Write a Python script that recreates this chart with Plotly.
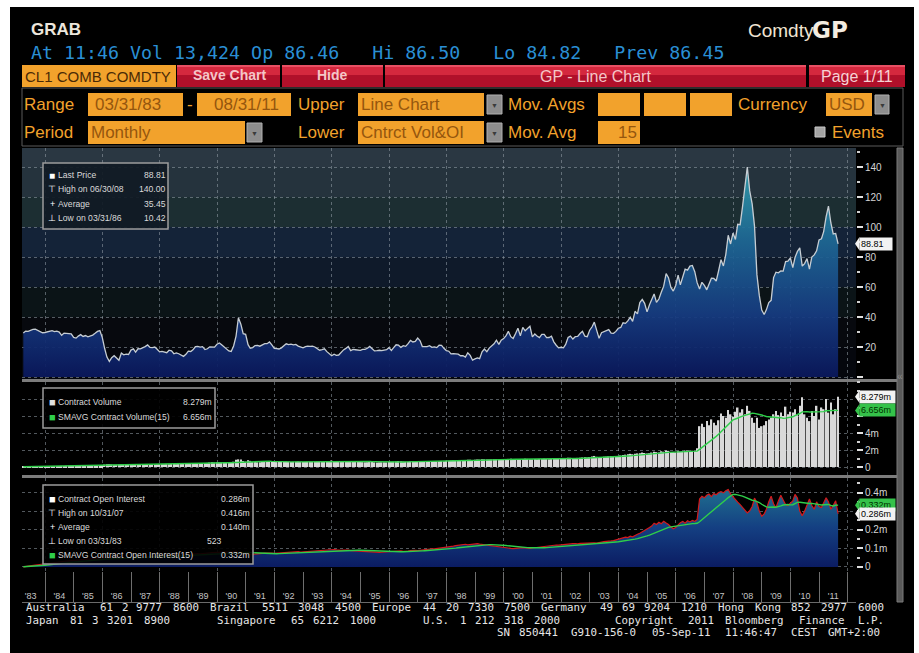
import re
import plotly.graph_objects as go
import pandas as pd

W, H = 919, 653

# ---------------- data ----------------
start_date = "1983-03-31"
end_date = "2011-08-31"

last_price = [
    29.27, 30.63, 30.49, 31.38, 31.74, 31.86, 30.90, 30.11, 29.50, 29.68,              # 1983
    29.97, 30.55, 30.85, 30.26, 30.56, 29.99, 27.78, 29.29, 29.25, 28.75, 28.72, 26.41,  # 1984
    25.92, 27.28, 28.24, 27.05, 27.66, 26.81, 27.15, 27.95, 29.10, 30.42, 30.99, 26.30,  # 1985
    18.83, 13.26, 10.42, 12.85, 14.23, 12.79, 11.15, 15.90, 14.77, 15.27, 15.00, 17.94,  # 1986
    18.75, 16.60, 18.83, 18.73, 19.38, 20.29, 21.37, 19.73, 19.59, 19.96, 18.51, 16.74,  # 1987
    17.13, 16.80, 16.20, 17.86, 17.42, 15.50, 16.02, 15.52, 14.54, 13.77, 15.14, 17.24,  # 1988
    17.03, 18.15, 20.19, 20.42, 19.90, 20.27, 18.31, 18.83, 20.13, 19.94, 19.89, 21.82,  # 1989
    22.68, 21.54, 20.28, 18.54, 17.40, 17.07, 20.69, 27.32, 39.51, 35.23, 28.85, 28.44,  # 1990
    21.54, 19.16, 19.63, 20.96, 21.13, 20.56, 21.68, 22.26, 22.23, 23.37, 21.48, 19.12,  # 1991
    18.90, 18.68, 19.44, 20.85, 22.11, 21.60, 21.87, 21.48, 21.71, 20.62, 19.89, 19.50,  # 1992
    20.26, 20.60, 20.44, 20.53, 20.02, 18.85, 17.88, 18.29, 18.79, 16.92, 15.43, 14.17,  # 1993
    15.19, 14.48, 14.66, 16.38, 18.07, 19.06, 20.30, 17.56, 18.39, 18.19, 18.05, 17.76,  # 1994
    18.39, 18.49, 19.17, 20.38, 18.89, 17.40, 17.56, 17.84, 17.54, 17.64, 18.18, 19.55,  # 1995
    17.74, 19.54, 21.47, 21.20, 19.76, 20.92, 20.42, 22.25, 24.38, 23.35, 23.75, 25.92,  # 1996
    24.15, 20.30, 20.41, 20.21, 20.88, 19.80, 20.14, 19.61, 21.18, 21.08, 19.15, 17.64,  # 1997
    17.21, 15.44, 15.61, 15.39, 15.20, 14.18, 14.21, 13.34, 16.14, 14.42, 11.22, 12.05,  # 1998
    12.75, 12.27, 16.76, 18.66, 16.84, 19.29, 20.53, 22.11, 24.51, 21.75, 24.59, 25.60,  # 1999
    27.64, 30.43, 26.90, 25.74, 29.01, 32.50, 27.43, 33.12, 30.84, 32.70, 33.82, 26.80,  # 2000
    28.66, 27.39, 26.29, 28.46, 28.37, 26.25, 26.35, 27.20, 23.43, 21.18, 19.44, 19.84,  # 2001
    19.48, 21.74, 26.31, 27.29, 25.31, 26.86, 27.02, 28.98, 30.45, 27.22, 26.89, 31.20,  # 2002
    33.51, 36.60, 31.04, 25.80, 29.56, 30.19, 30.54, 31.57, 29.20, 29.11, 30.41, 32.52,  # 2003
    33.05, 36.16, 35.76, 37.38, 39.88, 37.05, 43.80, 42.12, 49.64, 51.76, 49.13, 43.45,  # 2004
    48.20, 51.75, 55.40, 49.72, 51.97, 56.50, 60.57, 68.94, 66.24, 59.76, 57.32, 61.04,  # 2005
    67.92, 61.41, 66.63, 71.88, 71.29, 73.93, 74.40, 70.26, 62.91, 58.73, 63.13, 61.05,  # 2006
    58.14, 61.79, 65.87, 65.71, 64.01, 70.68, 78.21, 74.04, 81.66, 94.53, 88.71, 95.98,  # 2007
    91.75, 101.84, 101.58, 113.46, 127.35, 140.00, 124.08, 115.46, 100.64, 68.10, 54.43, 44.60,  # 2008
    41.68, 44.76, 49.66, 51.12, 66.31, 69.89, 69.45, 70.71, 70.61, 77.00, 77.28, 79.36,  # 2009
    72.89, 79.66, 83.76, 86.15, 73.97, 75.63, 78.95, 71.92, 79.97, 81.43, 84.11, 91.38,  # 2010
    92.19, 96.97, 106.72, 113.93, 102.70, 95.42, 95.70, 88.81,                          # 2011
]

contract_volume_m = [
    0.03, 0.04, 0.05, 0.05, 0.06, 0.06, 0.07, 0.07, 0.08, 0.08,                # 1983
    0.09, 0.10, 0.10, 0.11, 0.12, 0.12, 0.13, 0.13, 0.14, 0.15, 0.15, 0.16,    # 1984
    0.16, 0.17, 0.18, 0.18, 0.19, 0.19, 0.20, 0.20, 0.21, 0.21, 0.22, 0.23,    # 1985
    0.28, 0.32, 0.33, 0.30, 0.27, 0.26, 0.30, 0.31, 0.27, 0.26, 0.25, 0.27,    # 1986
    0.28, 0.27, 0.29, 0.30, 0.28, 0.29, 0.31, 0.30, 0.29, 0.30, 0.31, 0.33,    # 1987
    0.32, 0.33, 0.34, 0.33, 0.35, 0.36, 0.34, 0.35, 0.37, 0.38, 0.37, 0.39,    # 1988
    0.38, 0.40, 0.42, 0.41, 0.43, 0.44, 0.46, 0.48, 0.52, 0.55, 0.53, 0.56,    # 1989
    0.55, 0.54, 0.56, 0.58, 0.55, 0.57, 0.62, 0.85, 0.90, 0.88, 0.70, 0.62,    # 1990
    0.80, 0.72, 0.60, 0.58, 0.56, 0.57, 0.60, 0.62, 0.58, 0.60, 0.62, 0.64,    # 1991
    0.58, 0.60, 0.62, 0.63, 0.65, 0.62, 0.60, 0.61, 0.63, 0.64, 0.62, 0.60,    # 1992
    0.60, 0.62, 0.63, 0.61, 0.62, 0.64, 0.65, 0.63, 0.66, 0.68, 0.72, 0.75,    # 1993
    0.72, 0.70, 0.68, 0.66, 0.70, 0.72, 0.70, 0.68, 0.66, 0.64, 0.62, 0.60,    # 1994
    0.58, 0.56, 0.57, 0.59, 0.58, 0.55, 0.54, 0.55, 0.56, 0.57, 0.55, 0.58,    # 1995
    0.60, 0.62, 0.66, 0.70, 0.68, 0.64, 0.62, 0.63, 0.66, 0.68, 0.65, 0.64,    # 1996
    0.66, 0.68, 0.65, 0.64, 0.66, 0.65, 0.67, 0.66, 0.68, 0.70, 0.69, 0.72,    # 1997
    0.74, 0.76, 0.80, 0.78, 0.77, 0.79, 0.80, 0.78, 0.84, 0.86, 0.82, 0.85,    # 1998
    0.88, 0.86, 0.92, 0.90, 0.88, 0.87, 0.89, 0.90, 0.92, 0.95, 0.93, 0.90,    # 1999
    0.92, 0.95, 0.98, 0.90, 0.88, 0.92, 0.90, 0.93, 0.96, 0.95, 0.92, 0.90,    # 2000
    0.94, 0.92, 0.95, 0.93, 0.96, 0.94, 0.92, 0.95, 1.00, 0.98, 1.02, 0.96,    # 2001
    1.00, 1.05, 1.10, 1.08, 1.06, 1.05, 1.07, 1.10, 1.12, 1.15, 1.12, 1.18,    # 2002
    1.25, 1.30, 1.20, 1.15, 1.18, 1.20, 1.22, 1.25, 1.30, 1.28, 1.26, 1.30,    # 2003
    1.35, 1.40, 1.45, 1.50, 1.55, 1.50, 1.55, 1.60, 1.62, 1.70, 1.65, 1.58,    # 2004
    1.62, 1.70, 1.80, 1.75, 1.72, 1.85, 1.80, 1.95, 1.90, 1.78, 1.75, 1.72,    # 2005
    1.85, 1.80, 1.82, 1.90, 1.95, 1.85, 1.90, 1.88, 2.20, 4.80, 5.10, 4.70,    # 2006
    5.40, 4.90, 5.60, 5.20, 4.90, 5.50, 6.30, 6.00, 5.80, 6.70, 6.20, 5.90,    # 2007
    6.50, 7.00, 6.40, 6.80, 6.20, 7.20, 6.60, 5.80, 5.20, 5.80, 4.60, 4.80,    # 2008
    4.90, 5.40, 5.60, 5.80, 6.20, 6.60, 6.10, 6.40, 6.00, 7.10, 6.20, 6.50,    # 2009
    6.40, 6.80, 6.10, 7.20, 8.20, 6.20, 5.80, 5.40, 6.60, 6.00, 7.20, 5.60,    # 2010
    7.00, 6.80, 8.00, 6.40, 7.60, 6.20, 6.80, 8.279,                          # 2011
]

open_interest_m = [
    0.001, 0.002, 0.004, 0.006, 0.008, 0.010, 0.012, 0.014, 0.016, 0.018,                      # 1983
    0.020, 0.022, 0.024, 0.026, 0.027, 0.028, 0.030, 0.031, 0.032, 0.033, 0.034, 0.036,        # 1984
    0.037, 0.038, 0.039, 0.040, 0.041, 0.040, 0.042, 0.043, 0.044, 0.045, 0.046, 0.048,        # 1985
    0.050, 0.052, 0.050, 0.048, 0.047, 0.046, 0.045, 0.046, 0.047, 0.048, 0.049, 0.050,        # 1986
    0.051, 0.052, 0.053, 0.054, 0.055, 0.056, 0.058, 0.057, 0.056, 0.055, 0.056, 0.058,        # 1987
    0.059, 0.060, 0.061, 0.060, 0.062, 0.063, 0.064, 0.063, 0.065, 0.066, 0.065, 0.067,        # 1988
    0.068, 0.069, 0.070, 0.072, 0.071, 0.073, 0.074, 0.075, 0.076, 0.077, 0.078, 0.080,        # 1989
    0.079, 0.078, 0.080, 0.082, 0.081, 0.080, 0.083, 0.086, 0.078, 0.072, 0.070, 0.068,        # 1990
    0.066, 0.067, 0.068, 0.070, 0.071, 0.072, 0.073, 0.074, 0.075, 0.076, 0.074, 0.073,        # 1991
    0.074, 0.075, 0.077, 0.078, 0.079, 0.080, 0.078, 0.079, 0.081, 0.082, 0.080, 0.081,        # 1992
    0.082, 0.083, 0.085, 0.084, 0.086, 0.087, 0.088, 0.090, 0.089, 0.091, 0.093, 0.095,        # 1993
    0.094, 0.092, 0.090, 0.089, 0.091, 0.092, 0.090, 0.088, 0.087, 0.086, 0.085, 0.084,        # 1994
    0.083, 0.082, 0.080, 0.081, 0.079, 0.078, 0.077, 0.078, 0.079, 0.080, 0.081, 0.082,        # 1995
    0.083, 0.085, 0.087, 0.089, 0.086, 0.084, 0.083, 0.085, 0.088, 0.090, 0.089, 0.088,        # 1996
    0.090, 0.092, 0.094, 0.095, 0.096, 0.098, 0.097, 0.099, 0.100, 0.102, 0.101, 0.104,        # 1997
    0.106, 0.108, 0.112, 0.115, 0.117, 0.118, 0.120, 0.122, 0.119, 0.121, 0.124, 0.126,        # 1998
    0.125, 0.123, 0.121, 0.118, 0.116, 0.115, 0.114, 0.112, 0.110, 0.108, 0.105, 0.106,        # 1999
    0.104, 0.102, 0.100, 0.099, 0.101, 0.100, 0.102, 0.104, 0.103, 0.101, 0.100, 0.102,        # 2000
    0.104, 0.106, 0.108, 0.110, 0.109, 0.111, 0.112, 0.114, 0.116, 0.118, 0.117, 0.119,        # 2001
    0.120, 0.122, 0.124, 0.123, 0.125, 0.126, 0.124, 0.127, 0.128, 0.126, 0.129, 0.131,        # 2002
    0.133, 0.130, 0.128, 0.132, 0.134, 0.136, 0.138, 0.137, 0.140, 0.142, 0.145, 0.148,        # 2003
    0.150, 0.156, 0.160, 0.158, 0.165, 0.162, 0.170, 0.176, 0.181, 0.188, 0.195, 0.205,        # 2004
    0.212, 0.220, 0.235, 0.228, 0.240, 0.232, 0.245, 0.236, 0.228, 0.215, 0.205, 0.212,        # 2005
    0.225, 0.238, 0.245, 0.235, 0.248, 0.242, 0.250, 0.245, 0.255, 0.365, 0.380, 0.372,        # 2006
    0.385, 0.392, 0.378, 0.395, 0.388, 0.400, 0.405, 0.398, 0.410, 0.416, 0.392, 0.375,        # 2007
    0.360, 0.348, 0.335, 0.320, 0.305, 0.290, 0.302, 0.325, 0.370, 0.345, 0.300, 0.272,        # 2008
    0.285, 0.310, 0.350, 0.380, 0.340, 0.318, 0.355, 0.385, 0.360, 0.335, 0.330, 0.340,        # 2009
    0.355, 0.390, 0.370, 0.300, 0.275, 0.300, 0.335, 0.365, 0.330, 0.310, 0.350, 0.325,        # 2010
    0.320, 0.345, 0.372, 0.350, 0.310, 0.330, 0.355, 0.286,                                    # 2011
]

year_labels = ["'83", "'84", "'85", "'86", "'87", "'88", "'89", "'90", "'91", "'92",
               "'93", "'94", "'95", "'96", "'97", "'98", "'99", "'00", "'01", "'02",
               "'03", "'04", "'05", "'06", "'07", "'08", "'09", "'10", "'11"]
label_years = list(range(1983, 2012))

price_ticks = [0, 20, 40, 60, 80, 100, 120, 140]
price_ticktext = ["", "20", "40", "60", "80", "100", "120", "140"]
vol_ticks = [0, 2, 4, 6, 8]
vol_ticktext = ["0", "2m", "4m", "", ""]          # 6m / 8m hidden under value tags
oi_ticks = [0, 0.1, 0.2, 0.3, 0.4]
oi_ticktext = ["0", "0.1m", "0.2m", "", "0.4m"]   # 0.3m hidden under value tags

footer_lines = [
    "Australia 61 2 9777 8600 Brazil 5511 3048 4500 Europe 44 20 7330 7500 "
    "Germany 49 69 9204 1210 Hong Kong 852 2977 6000",
    "Japan 81 3 3201 8900      Singapore 65 6212 1000      U.S. 1 212 318 2000       "
    "Copyright 2011 Bloomberg Finance L.P.",
    " " * 64 + "SN 850441 G910-156-0 05-Sep-11 11:46:47 CEST GMT+2:00",
]

try:
    dates = pd.date_range(start_date, end_date, freq="ME")
except ValueError:
    dates = pd.date_range(start_date, end_date, freq="M")

assert len(dates) == len(last_price) == len(contract_volume_m) == len(open_interest_m), (
    len(dates), len(last_price), len(contract_volume_m), len(open_interest_m))

vol_sma = pd.Series(contract_volume_m).rolling(15, min_periods=1).mean().tolist()
oi_sma = pd.Series(open_interest_m).rolling(15, min_periods=1).mean().tolist()
label_dates = [f"{y}-07-01" for y in label_years]

# ---------------- styling helpers ----------------
SANS = "Liberation Sans, Arial, sans-serif"
NARROW = "Liberation Sans, Arial, sans-serif"
MONO = "DejaVu Sans Mono, Liberation Mono, monospace"
ORANGE = "#f2a22c"
BOXTXT = "#95560e"
GRID = "rgba(150,160,170,0.55)"
GREEN = "#2fcf4a"
NB = "\u00a0"
LEGSIZE = 8.6

shapes = []
annos = []


def rect(x0, y0, x1, y1, fill, line=None, lw=0, layer="below"):
    shapes.append(dict(type="rect", xref="paper", yref="paper",
                       x0=x0 / W, x1=x1 / W, y0=1 - y1 / H, y1=1 - y0 / H,
                       fillcolor=fill, line=dict(color=line or fill, width=lw), layer=layer))


def text(x, y, s, size=12, color="#ffffff", family=SANS, xanchor="left", yanchor="middle", bg=None):
    a = dict(xref="paper", yref="paper", x=x / W, y=1 - y / H, text=s, showarrow=False,
             xanchor=xanchor, yanchor=yanchor, borderpad=0, borderwidth=0,
             font=dict(size=size, color=color, family=family))
    if bg:
        a["bgcolor"] = bg
    annos.append(a)


# outer terminal panel
rect(10, 7, 914, 660, "#000000")

# header
text(31, 29, "<b>GRAB</b>", 17, "#ece6dc", SANS)
text(748, 30, "Comdty", 19, "#efe4d2", SANS)
text(812, 30, "<b>GP</b>", 23, "#f3ece0", "DejaVu Sans, " + SANS)
text(31, 53, f"At 11:46 Vol 13,424 Op 86.46{NB*3}Hi 86.50{NB*3}Lo 84.82{NB*3}Prev 86.45",
     18.3, "#2a8fd4", MONO)

# red toolbar
rect(22, 65, 176, 87, ORANGE)
text(25, 76, "CL1 COMB COMDTY", 15, "#4a2a06", SANS)
for (a, b) in [(177, 280), (282, 383), (385, 806), (809, 905)]:
    rect(a, 65, b, 87, "#b0102a")
    rect(a, 65, b, 75, "#d4283e")
    rect(a, 65, b, 67, "#e85064")
text(229, 75, "<b>Save Chart</b>", 14, "#f4c6c8", SANS, xanchor="center")
text(332, 75, "<b>Hide</b>", 14, "#f4c6c8", SANS, xanchor="center")
text(595, 76, "GP - Line Chart", 16, "#f4c6c8", SANS, xanchor="center")
text(857, 76, "Page 1/11", 16, "#f6d2d4", SANS, xanchor="center")

# control area
rect(22, 88, 903, 146, "rgba(0,0,0,0)", "#5a5a5a", 1)


def dropdown(x0, y0, x1, y1):
    rect(x0, y0, x1, y1, "#8d8d8d", "#b0b0b0", 1)
    text((x0 + x1) / 2, (y0 + y1) / 2 + 1, "▼", 7, "#3a3a3a", SANS, xanchor="center")


r1a, r1b, r1c = 93, 116, 104.5
r2a, r2b, r2c = 121, 144, 132.5
text(24, r1c, "Range", 17, ORANGE)
rect(88, r1a, 183, r1b, ORANGE)
text(95, r1c, "03/31/83", 17, BOXTXT)
text(187, r1c, "-", 17, ORANGE)
rect(197, r1a, 291, r1b, ORANGE)
text(214, r1c, "08/31/11", 17, BOXTXT)
text(298, r1c, "Upper", 17, ORANGE)
rect(358, r1a, 484, r1b, ORANGE)
text(361, r1c, "Line Chart", 17, BOXTXT)
dropdown(487, r1a + 2, 502, r1b - 2)
text(508, r1c, "Mov. Avgs", 17, ORANGE)
for (a, b) in [(598, 640), (644, 686), (690, 732)]:
    rect(a, r1a, b, r1b, ORANGE)
text(738, r1c, "Currency", 17, ORANGE)
rect(826, r1a, 872, r1b, ORANGE)
text(829, r1c, "USD", 17, BOXTXT)
dropdown(875, r1a + 2, 889, r1b - 2)

text(24, r2c, "Period", 17, ORANGE)
rect(88, r2a, 245, r2b, ORANGE)
text(91, r2c, "Monthly", 17, BOXTXT)
dropdown(247, r2a + 2, 262, r2b - 2)
text(298, r2c, "Lower", 17, ORANGE)
rect(358, r2a, 484, r2b, ORANGE)
text(361, r2c, "Cntrct Vol&OI", 17, BOXTXT)
dropdown(487, r2a + 2, 502, r2b - 2)
text(508, r2c, "Mov. Avg", 17, ORANGE)
rect(598, r2a, 640, r2b, ORANGE)
text(637, r2c, "15", 17, BOXTXT, xanchor="right")
rect(815, 127, 825, 137, "#a4a4a4", "#c8c8c8", 1)
text(832, r2c, "Events", 17, ORANGE)

# panel separators, scrollbar
rect(22, 379, 897, 382, "#7c7c7c")
rect(22, 475, 897, 478, "#7c7c7c")
rect(897, 148, 903, 602, "#5a5a5a", "#7a7a7a", 1)
text(900, 376, "«", 10, "#8a8a8a", SANS, xanchor="center")

# top-panel background bands (style only)
bands = [(140, 160, "#2a3742"), (120, 140, "#25333d"), (100, 120, "#1c2e32"),
         (80, 100, "#142338"), (60, 80, "#0f1a2a"), (40, 60, "#0b1417"),
         (20, 40, "#07090e"), (-5, 20, "#05070d")]
for lo, hi, c in bands:
    shapes.append(dict(type="rect", xref="x domain", yref="y", x0=0, x1=1, y0=lo, y1=hi,
                       fillcolor=c, line=dict(width=0), layer="below"))

# legend boxes
LEG = "#dadada"
rect(43, 163, 168, 229, "rgba(16,26,36,0.92)", "#9c9c9c", 1.5, "above")
top_rows = [("■", "Last Price", "88.81"), ("⊤", "High on 06/30/08", "140.00"),
            ("+", "Average", "35.45"), ("⊥", "Low on 03/31/86", "10.42")]
for i, (ic, lab, val) in enumerate(top_rows):
    yy = 175 + i * 14.3
    text(52, yy, ic, 10 if ic == "■" else 9, "#ffffff", SANS, xanchor="center")
    text(58, yy, lab, LEGSIZE, LEG, NARROW)
    text(166, yy, val, LEGSIZE, LEG, NARROW, xanchor="right")

rect(43, 388, 215, 428, "rgba(0,0,0,0.9)", "#9c9c9c", 1.5, "above")
text(52, 402, "■", 11, "#e0e0e0", SANS, xanchor="center")
text(58, 402, "Contract Volume", LEGSIZE, LEG, NARROW)
text(212, 402, "8.279m", LEGSIZE, LEG, NARROW, xanchor="right")
text(52, 417, "■", 11, GREEN, SANS, xanchor="center")
text(58, 417, "SMAVG Contract Volume(15)", LEGSIZE, LEG, NARROW)
text(212, 417, "6.656m", LEGSIZE, LEG, NARROW, xanchor="right")

rect(43, 485, 253, 564, "rgba(0,0,0,0.9)", "#9c9c9c", 1.5, "above")
bot_rows = [("■", "#ffffff", "Contract Open Interest", "0.286m", 250),
            ("⊤", "#ffffff", "High on 10/31/07", "0.416m", 250),
            ("+", "#ffffff", "Average", "0.140m", 250),
            ("⊥", "#ffffff", "Low on 03/31/83", "523", 222),
            ("■", GREEN, "SMAVG Contract Open Interest(15)", "0.332m", 250)]
for i, (ic, icc, lab, val, vx) in enumerate(bot_rows):
    yy = 499 + i * 14
    text(52, yy, ic, 11 if ic == "■" else 9, icc, SANS, xanchor="center")
    text(58, yy, lab, LEGSIZE, LEG, NARROW)
    text(vx, yy, val, LEGSIZE, LEG, NARROW, xanchor="right")

# footer: words placed on the terminal's fixed character grid
FOOT = "#e6e6e6"
CHAR_W = 7.36
for li, line in enumerate(footer_lines):
    yy = 607.3 + li * 12.7
    for m in re.finditer(r"\S+", line):
        text(26 + m.start() * CHAR_W, yy, m.group(), 10.8, FOOT, MONO)


# right-side value tags with pointers
def tag(yref, value, label, bg, fg, half):
    annos.append(dict(xref="paper", yref=yref, x=859 / W, y=value, text=label, showarrow=False,
                      xanchor="left", yanchor="middle", bgcolor=bg, borderpad=1,
                      font=dict(size=9, color=fg, family=NARROW)))
    shapes.append(dict(type="path", xref="paper", yref=yref, layer="above",
                       path=f"M {855/W} {value} L {859.5/W} {value + half} L {859.5/W} {value - half} Z",
                       fillcolor=bg, line=dict(width=0)))


tag("y", last_price[-1], "88.81" + NB * 3, "#f2f2f2", "#000000", 4.5)
tag("y2", contract_volume_m[-1], "8.279m" + NB, "#f2f2f2", "#000000", 0.75)
tag("y2", vol_sma[-1], "6.656m" + NB, "#35c24a", "#003300", 0.75)
tag("y3", oi_sma[-1], "0.332m" + NB, "#35c24a", "#003300", 0.035)
tag("y3", open_interest_m[-1], "0.286m" + NB, "#f2f2f2", "#000000", 0.035)

# ---------------- figure ----------------
fig = go.Figure()
fig.add_trace(go.Scatter(
    x=dates, y=last_price, mode="lines", line=dict(color="#c6cdd3", width=1.3),
    fill="tozeroy",
    fillgradient=dict(type="vertical", start=0, stop=140,
                      colorscale=[[0, "rgba(10,24,92,0.95)"], [0.3, "rgba(22,60,130,0.93)"],
                                  [0.65, "rgba(30,105,150,0.92)"], [1, "rgba(50,160,175,0.92)"]]),
    xaxis="x", yaxis="y", hoverinfo="skip"))
fig.add_trace(go.Bar(x=dates, y=contract_volume_m, marker=dict(color="#d9d9d9", line=dict(width=0)),
                     xaxis="x2", yaxis="y2", hoverinfo="skip"))
fig.add_trace(go.Scatter(x=dates, y=vol_sma, mode="lines", line=dict(color=GREEN, width=1.4),
                         xaxis="x2", yaxis="y2", hoverinfo="skip"))
fig.add_trace(go.Scatter(
    x=dates, y=open_interest_m, mode="lines", line=dict(color="#d3191c", width=1.2),
    fill="tozeroy",
    fillgradient=dict(type="vertical", start=0, stop=0.42,
                      colorscale=[[0, "#0b1c62"], [0.5, "#143f82"], [1, "#1f6f8f"]]),
    xaxis="x3", yaxis="y3", hoverinfo="skip"))
fig.add_trace(go.Scatter(x=dates, y=oi_sma, mode="lines", line=dict(color=GREEN, width=1.4),
                         xaxis="x3", yaxis="y3", hoverinfo="skip"))
fig.add_trace(go.Scatter(x=[dates[0]], y=[0.5], mode="markers", marker=dict(opacity=0),
                         xaxis="x4", yaxis="y4", hoverinfo="skip"))

xr = ["1983-03-14", "2012-04-15"]
xdom = [22 / W, 856 / W]
panel_x = dict(domain=xdom, type="date", range=xr, showticklabels=False, ticks="",
               showgrid=True, gridcolor=GRID, griddash="dot", gridwidth=1,
               dtick="M24", tick0="1984-01-01", zeroline=False, showline=False)


def ydom(top, bottom):
    return [1 - bottom / H, 1 - top / H]


tickfont = dict(size=10, color="#d4d4d4", family=NARROW)
yaxis_common = dict(side="right", showgrid=True, gridcolor=GRID, griddash="dot", zeroline=False,
                    ticks="outside", ticklen=6, tickcolor="#e0e0e0", tickwidth=1.5,
                    tickfont=tickfont, tickmode="array", showline=False)

fig.update_layout(
    width=W, height=H, margin=dict(l=0, r=0, t=0, b=0),
    paper_bgcolor="#ffffff", plot_bgcolor="rgba(0,0,0,0)",
    showlegend=False, hovermode=False, bargap=0.3,
    xaxis=dict(**panel_x, anchor="y"),
    xaxis2=dict(**panel_x, anchor="y2", matches="x"),
    xaxis3=dict(**panel_x, anchor="y3", matches="x"),
    xaxis4=dict(domain=xdom, type="date", range=xr, matches="x", anchor="y4",
                tickmode="array", tickvals=label_dates, ticktext=year_labels,
                ticks="", ticklabelposition="inside", showgrid=False, zeroline=False,
                tickfont=dict(size=9, color="#c4c4c4", family=NARROW),
                minor=dict(dtick="M12", tick0="1984-01-01", showgrid=True,
                           gridcolor="#6e6e6e", gridwidth=1, ticks=""),
                showline=True, linecolor="#6a6a6a", linewidth=1),
    yaxis=dict(**yaxis_common, domain=ydom(148, 379), range=[-1.33, 152.7], anchor="x",
               tickvals=price_ticks, ticktext=price_ticktext,
               minor=dict(dtick=10, ticks="outside", ticklen=3, tickcolor="#cfcfcf", showgrid=False)),
    yaxis2=dict(**yaxis_common, domain=ydom(382, 475), range=[-0.94, 10.0], anchor="x2",
                tickvals=vol_ticks, ticktext=vol_ticktext,
                minor=dict(dtick=1, ticks="outside", ticklen=3, tickcolor="#cfcfcf", showgrid=False)),
    yaxis3=dict(**yaxis_common, domain=ydom(478, 572), range=[-0.027, 0.478], anchor="x3",
                tickvals=oi_ticks, ticktext=oi_ticktext,
                minor=dict(dtick=0.05, ticks="outside", ticklen=3, tickcolor="#cfcfcf", showgrid=False)),
    yaxis4=dict(domain=ydom(572, 602), range=[0, 1], anchor="x4", visible=False),
    shapes=shapes, annotations=annos,
)

fig.write_html("out.html", config={"displayModeBar": False},
               post_script="document.body.style.margin='0';document.body.style.padding='0';")
